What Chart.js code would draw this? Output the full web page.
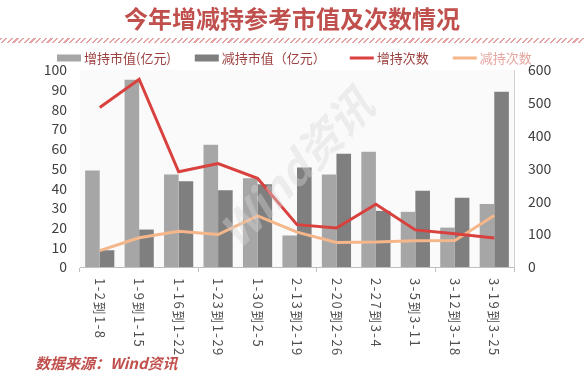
<!DOCTYPE html>
<html><head><meta charset="utf-8">
<script src="https://cdn.jsdelivr.net/npm/chart.js@4.4.0/dist/chart.umd.min.js"></script>
<style>
html,body{margin:0;padding:0;background:#fff;}
#wrap{position:relative;width:584px;height:380px;overflow:hidden;font-family:"Noto Sans CJK SC","Noto Sans",sans-serif;}
#title{position:absolute;left:0;top:3px;width:584px;text-align:center;font-size:24px;font-weight:700;color:#c0504d;line-height:30px;z-index:2;}
#band{position:absolute;left:0;top:38px;width:584px;height:5px;background:repeating-linear-gradient(135deg,#e6a3a3 0 1.5px,#fff 1.5px 4px);z-index:2;}
#src{position:absolute;left:35px;top:352px;font-size:15px;font-weight:700;font-style:italic;color:#c0504d;line-height:22px;z-index:2;}
canvas{position:absolute;left:0;top:0;}
</style></head>
<body>
<div id="wrap">
<canvas id="c" width="584" height="380"></canvas>
<div id="title">今年增减持参考市值及次数情况</div>
<div id="band"></div>
<div id="src">数据来源：Wind资讯</div>
</div>
<script>
const categories = ['1-2到1-8','1-9到1-15','1-16到1-22','1-23到1-29','1-30到2-5','2-13到2-19','2-20到2-26','2-27到3-4','3-5到3-11','3-12到3-18','3-19到3-25'];
const incValue = [49, 95, 47, 62, 45, 16, 47, 58.5, 28, 20, 32];
const decValue = [8.5, 19, 43.5, 39, 42, 50.5, 57.5, 28.5, 38.7, 35.2, 89];
const incCount = [486, 572, 290, 315, 270, 129, 119, 191, 113, 101, 88];
const decCount = [50, 89, 109, 99, 156, 106, 75, 76, 80, 81, 157];
const leftTicks = [0,10,20,30,40,50,60,70,80,90,100];
const rightTicks = [0,100,200,300,400,500,600];

const FONT = '"Noto Sans CJK SC","Noto Sans",sans-serif';

const bgPlugin = {
  id:'bg',
  beforeDraw(chart){
    const {ctx, chartArea:a} = chart;
    ctx.save(); ctx.fillStyle='#fafafa';
    ctx.fillRect(a.left, a.top, a.right-a.left, a.bottom-a.top);
    ctx.restore();
  }
};

const watermark = {
  id:'wm',
  afterDatasetsDraw(chart){
    const ctx = chart.ctx;
    ctx.save();
    ctx.translate(296,168);
    ctx.rotate(-46*Math.PI/180);
    ctx.font = 'italic 700 44px ' + FONT;
    ctx.textAlign='center'; ctx.textBaseline='middle';
    ctx.fillStyle='rgba(215,215,215,0.4)';
    ctx.fillText('Wind资讯',0,0);
    ctx.restore();
  }
};

const xLabels = {
  id:'xl',
  afterDraw(chart){
    const ctx = chart.ctx, xs = chart.scales.x;
    ctx.save();
    ctx.font = '13px ' + FONT;
    ctx.fillStyle = '#505050';
    ctx.textAlign='left'; ctx.textBaseline='middle';
    try { ctx.letterSpacing = '1.5px'; } catch(e) {}
    categories.forEach((lab,i)=>{
      const x = xs.getPixelForValue(i);
      ctx.save();
      ctx.translate(x, xs.top + 11);
      ctx.rotate(Math.PI/2);
      ctx.fillText(lab,0,0);
      ctx.restore();
    });
    ctx.restore();
  }
};

const legendPlugin = {
  id:'lg',
  afterDraw(chart){
    const ctx = chart.ctx;
    ctx.save();
    ctx.font = '13px ' + FONT;
    ctx.textBaseline='middle'; ctx.textAlign='left';
    let x = 57; const y = 58;
    const textColors = ['#9c3f3f','#9c3f3f','#9c3f3f','#e6a5a0'];
    chart.data.datasets.forEach((ds,i)=>{
      if(ds.type==='line'){
        ctx.fillStyle = ds.borderColor;
        ctx.fillRect(x, y-1.5, 24, 3);
      } else {
        ctx.fillStyle = ds.backgroundColor;
        ctx.fillRect(x, y-3.5, 24, 7);
      }
      x += 27;
      ctx.fillStyle = textColors[i];
      ctx.fillText(ds.label, x, y);
      x += ctx.measureText(ds.label).width + 24;
    });
    ctx.restore();
  }
};

new Chart(document.getElementById('c'), {
  data:{
    labels: categories,
    datasets:[
      {type:'bar', label:'增持市值(亿元)', data:incValue, backgroundColor:'#a6a6a6', yAxisID:'y', order:2, categoryPercentage:0.74, barPercentage:1},
      {type:'bar', label:'减持市值（亿元）', data:decValue, backgroundColor:'#7f7f7f', yAxisID:'y', order:3, categoryPercentage:0.74, barPercentage:1},
      {type:'line', label:'增持次数', data:incCount, borderColor:'#d9413f', borderWidth:3, pointRadius:0, tension:0, yAxisID:'y1', order:0, fill:false},
      {type:'line', label:'减持次数', data:decCount, borderColor:'#f5b68a', borderWidth:3, pointRadius:0, tension:0, yAxisID:'y1', order:1, fill:false}
    ]
  },
  options:{
    responsive:false, animation:false, devicePixelRatio:1,
    layout:{padding:{top:70,left:0,right:0,bottom:0}},
    plugins:{legend:{display:false}, tooltip:{enabled:false}, title:{display:false}},
    scales:{
      x:{
        type:'category', offset:true,
        grid:{display:true, drawOnChartArea:false, drawTicks:true, tickLength:5, offset:true,
          color:(c)=> (c.index===undefined || c.index%3===0) ? '#bfbfbf' : 'rgba(0,0,0,0)'},
        border:{display:true, color:'#bfbfbf'},
        ticks:{display:false},
        afterFit:(s)=>{ s.height = 113; }
      },
      y:{
        position:'left', min:0, max:100,
        afterBuildTicks:(s)=>{ s.ticks = leftTicks.map(v=>({value:v})); },
        ticks:{color:'#404040', font:{size:14, family:FONT}, padding:13, autoSkip:false},
        grid:{display:false, drawTicks:false},
        border:{display:false},
        afterFit:(s)=>{ s.width = 80; }
      },
      y1:{
        position:'right', min:0, max:600,
        afterBuildTicks:(s)=>{ s.ticks = rightTicks.map(v=>({value:v})); },
        ticks:{color:'#404040', font:{size:14, family:FONT}, padding:14, autoSkip:false},
        grid:{display:false, drawTicks:false},
        border:{display:true, color:'#d0d0d0'},
        afterFit:(s)=>{ s.width = 70; }
      }
    }
  },
  plugins:[bgPlugin, watermark, xLabels, legendPlugin]
});
</script>
</body></html>
